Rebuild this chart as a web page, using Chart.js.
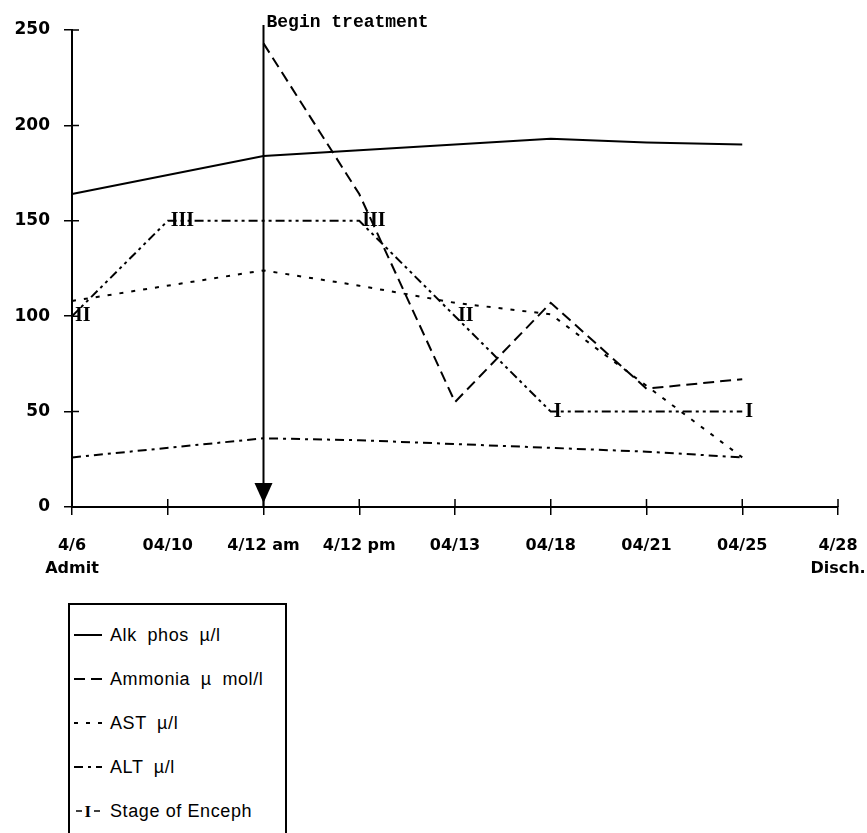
<!DOCTYPE html>
<html>
<head>
<meta charset="utf-8">
<script src="https://cdn.jsdelivr.net/npm/chart.js@4.4.1/dist/chart.umd.min.js"></script>
<style>
  html, body { margin: 0; padding: 0; background: #fff; }
  #wrap { position: relative; width: 867px; height: 833px; overflow: hidden; }
  #plot { position: absolute; left: 0; top: 0; width: 867px; height: 590px; }
  #legend {
    position: absolute; left: 68px; top: 603px; width: 219px; height: 260px;
    box-sizing: border-box; border: 2px solid #000; border-bottom: none; padding-top: 8px;
    font-family: "Liberation Sans", Arial, sans-serif; font-size: 18px;
    letter-spacing: 0.6px; word-spacing: 5px; color: #000;
  }
  .item { height: 44px; display: flex; align-items: center; white-space: nowrap; }
  .item:last-child { word-spacing: 0; }
  .item svg { margin-left: 4px; margin-right: 8px; flex: none; }
</style>
</head>
<body>
<div id="wrap">
  <div id="plot"><canvas id="chart"></canvas></div>
  <div id="legend"></div>
</div>
<script>
// values
const dates = [['4/6', 'Admit'], '04/10', '4/12 am', '4/12 pm', '04/13', '04/18', '04/21', '04/25', ['4/28', 'Disch.']];
const alkPhos = [164, null, 184, 187, 190, 193, 191, 190, null];
const ammonia = [null, null, 243, 164, 55, 107, 62, 67, null];
const ast     = [108, null, 124, 116, 107, 101, null, 26, null];
const alt     = [26, null, 36, 35, 33, 31, 29, 26, null];
const stage   = [100, 150, null, 150, 100, 50, null, 50, null];
const stageMarks = ['II', 'III', '', 'III', 'II', 'I', '', 'I', ''];
const yTicks = [0, 50, 100, 150, 200, 250];
const treatmentIdx = 2;

const yFont = { family: '"DejaVu Sans", sans-serif', size: 17, weight: 'bold' };
const xFont = { family: '"DejaVu Sans", sans-serif', size: 16, weight: 'bold', lineHeight: 1.45 };

// tick marks in the reference cross the axis, chart.js only draws the outer half
const crossTicks = {
  id: 'crossTicks',
  afterDraw(chart) {
    const { ctx, chartArea: a, scales: { x, y } } = chart;
    ctx.save();
    ctx.strokeStyle = '#000';
    ctx.lineWidth = 1.5;
    ctx.beginPath();
    y.ticks.forEach((t, i) => { const py = y.getPixelForTick(i); ctx.moveTo(a.left, py); ctx.lineTo(a.left + 7, py); });
    x.ticks.forEach((t, i) => { const px = x.getPixelForTick(i); ctx.moveTo(px, a.bottom); ctx.lineTo(px, a.bottom - 8); });
    ctx.stroke();
    ctx.restore();
  }
};

const treatment = {
  id: 'treatment',
  afterDatasetsDraw(chart) {
    const { ctx, chartArea: a, scales: { x } } = chart;
    const px = x.getPixelForValue(treatmentIdx);
    const top = a.top - 5, tip = a.bottom - 4;
    ctx.save();
    ctx.strokeStyle = '#000';
    ctx.fillStyle = '#000';
    ctx.lineWidth = 2;
    ctx.beginPath(); ctx.moveTo(px, top); ctx.lineTo(px, a.bottom); ctx.stroke();
    ctx.beginPath();
    ctx.moveTo(px - 9, tip - 20); ctx.lineTo(px + 9, tip - 20); ctx.lineTo(px, tip);
    ctx.closePath(); ctx.fill();
    ctx.font = 'bold 18px "Liberation Mono", monospace';
    ctx.textAlign = 'left';
    ctx.textBaseline = 'middle';
    ctx.fillText('Begin treatment', px + 3, a.top - 8);
    ctx.restore();
  }
};

const stageLabels = {
  id: 'stageLabels',
  afterDatasetsDraw(chart) {
    const meta = chart.getDatasetMeta(4);
    const ctx = chart.ctx;
    ctx.save();
    ctx.font = 'bold 20px "Liberation Serif", serif';
    ctx.textAlign = 'left';
    ctx.textBaseline = 'middle';
    ctx.fillStyle = '#000';
    meta.data.forEach((pt, i) => {
      if (stageMarks[i] && stage[i] != null) ctx.fillText(stageMarks[i], pt.x + 3, pt.y);
    });
    ctx.restore();
  }
};

const chart = new Chart(document.getElementById('chart'), {
  type: 'line',
  data: {
    labels: dates,
    datasets: [
      { label: 'Alk phos µ/l', data: alkPhos, borderDash: [] },
      { label: 'Ammonia µ mol/l', data: ammonia, borderDash: [11, 6] },
      { label: 'AST µ/l', data: ast, borderDash: [4, 8] },
      { label: 'ALT µ/l', data: alt, borderDash: [9, 5, 3, 5] },
      { label: 'Stage of Enceph', data: stage, borderDash: [9, 4, 3, 4, 3, 4] }
    ].map(d => Object.assign({ borderColor: '#000', borderWidth: 2, pointRadius: 0, tension: 0, spanGaps: true, fill: false }, d))
  },
  options: {
    responsive: true,
    maintainAspectRatio: false,
    animation: false,
    layout: { padding: { left: 0, right: 29, top: 30, bottom: 0 } },
    plugins: { legend: { display: false }, tooltip: { enabled: false } },
    scales: {
      x: {
        type: 'category',
        offset: false,
        grid: { drawOnChartArea: false, color: '#000', lineWidth: 1.5, tickLength: 8 },
        border: { color: '#000', width: 2 },
        ticks: { color: '#000', font: xFont, padding: 19, maxRotation: 0, autoSkip: false },
        afterFit(s) { s.height = 83; s.paddingLeft = 0; s.paddingRight = 0; }
      },
      y: {
        min: yTicks[0],
        max: yTicks[yTicks.length - 1],
        afterBuildTicks(s) { s.ticks = yTicks.map(v => ({ value: v })); },
        grid: { drawOnChartArea: false, color: '#000', lineWidth: 1.5, tickLength: 8 },
        border: { color: '#000', width: 2 },
        ticks: { color: '#000', font: yFont, padding: 14 },
        afterFit(s) { s.width = 72; s.paddingTop = 0; s.paddingBottom = 0; }
      }
    }
  },
  plugins: [crossTicks, treatment, stageLabels]
});

// boxed legend below the plot, one entry per row like the original
const legend = document.getElementById('legend');
chart.data.datasets.forEach((ds, i) => {
  const row = document.createElement('div');
  row.className = 'item';
  let svg;
  if (i === 4) {
    svg = '<svg width="28" height="20"><line x1="2" y1="10" x2="8" y2="10" stroke="#000" stroke-width="1.5"/>' +
      '<text x="14" y="16" text-anchor="middle" font-family="Liberation Serif" font-weight="bold" font-size="17">I</text>' +
      '<line x1="20" y1="10" x2="26" y2="10" stroke="#000" stroke-width="1.5"/></svg>';
  } else {
    svg = '<svg width="28" height="20"><line x1="0" y1="10" x2="28" y2="10" stroke="#000" stroke-width="2" stroke-dasharray="' +
      (ds.borderDash.length ? ds.borderDash.join(' ') : 'none') + '"/></svg>';
  }
  row.innerHTML = svg + '<span>' + ds.label + '</span>';
  legend.appendChild(row);
});
</script>
</body>
</html>
